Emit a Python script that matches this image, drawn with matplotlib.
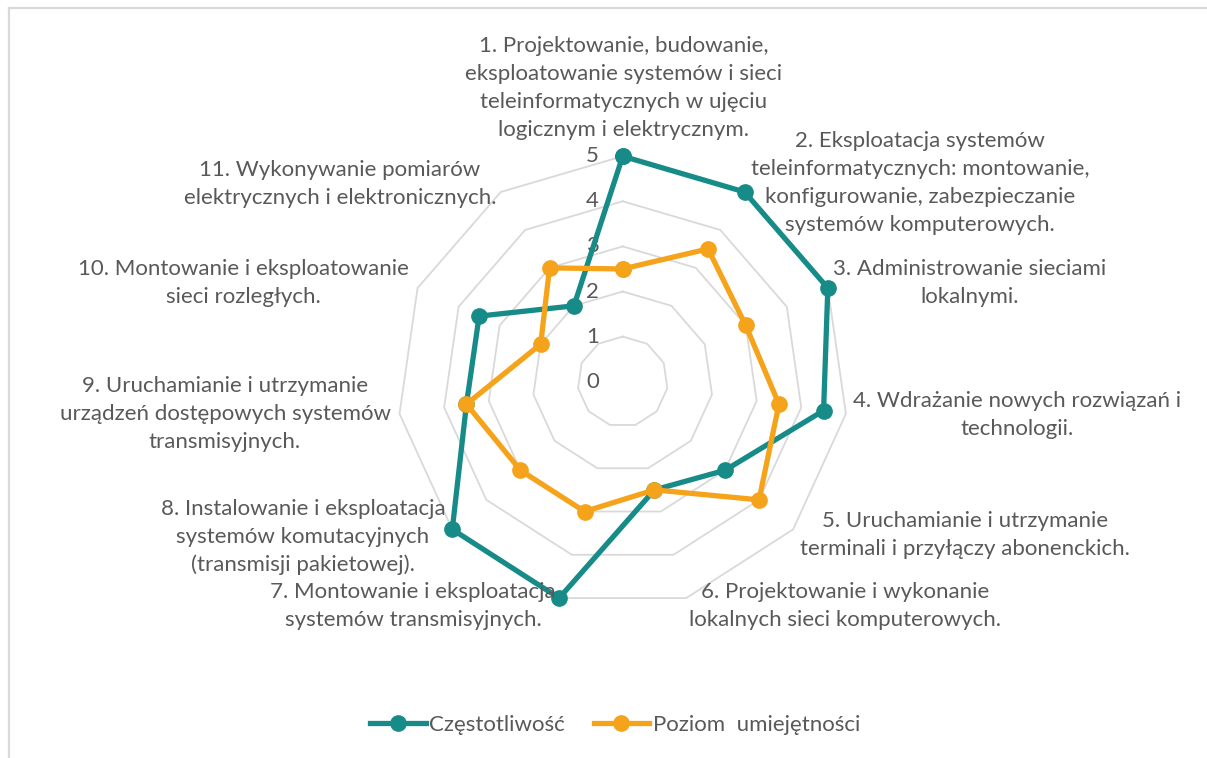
import matplotlib.pyplot as plt
import numpy as np
from matplotlib.lines import Line2D

plt.rcParams['font.family'] = ['Lato', 'DejaVu Sans']

categories = [
    "1. Projektowanie, budowanie,\neksploatowanie systemów i sieci\nteleinformatycznych w ujęciu\nlogicznym i elektrycznym.",
    "2. Eksploatacja systemów\nteleinformatycznych: montowanie,\nkonfigurowanie, zabezpieczanie\nsystemów komputerowych.",
    "3. Administrowanie sieciami\nlokalnymi.",
    "4. Wdrażanie nowych rozwiązań i\ntechnologii.",
    "5. Uruchamianie i utrzymanie\nterminali i przyłączy abonenckich.",
    "6. Projektowanie i wykonanie\nlokalnych sieci komputerowych.",
    "7. Montowanie i eksploatacja\nsystemów transmisyjnych.",
    "8. Instalowanie i eksploatacja\nsystemów komutacyjnych\n(transmisji pakietowej).",
    "9. Uruchamianie i utrzymanie\nurządzeń dostępowych systemów\ntransmisyjnych.",
    "10. Montowanie i eksploatowanie\nsieci rozległych.",
    "11. Wykonywanie pomiarów\nelektrycznych i elektronicznych.",
]
czestotliwosc = [5, 5, 5, 4.5, 3, 2.5, 5, 5, 3.5, 3.5, 2]
umiejetnosci = [2.5, 3.5, 3, 3.5, 4, 2.5, 3, 3, 3.5, 2, 3]
levels = [0, 1, 2, 3, 4, 5]

# where each category label sits (figure pixels, centre of text block)
label_pos = [(624, 88), (920, 183), (970, 283), (1017, 415), (965, 535),
             (845, 606), (413, 606), (303, 537), (225, 414), (243, 283),
             (340, 184)]

teal = '#178B88'
orange = '#F5A31A'
grey_text = '#595959'
fs = 16

W, H = 1207, 758
fig = plt.figure(figsize=(W / 100, H / 100), dpi=100)

cx, cy, R = 622.7, 381.7, 225.5
ax = fig.add_axes([(cx - R) / W, (H - cy - R) / H, 2 * R / W, 2 * R / H],
                  projection='polar')
ax.set_theta_zero_location('N')
ax.set_theta_direction(-1)
ax.set_ylim(0, 5)
ax.grid(False)
ax.spines['polar'].set_visible(False)
ax.set_xticks([])
ax.set_yticks([])
ax.patch.set_alpha(0)

n = len(categories)
theta = np.linspace(0, 2 * np.pi, n, endpoint=False)
theta_c = np.append(theta, theta[0])

# grid rings
for lv in levels[1:]:
    ax.plot(theta_c, [lv] * (n + 1), color='#D9D9D9', lw=1.3, zorder=1,
            clip_on=False)

for lv in levels:
    ax.annotate(str(lv), xy=(0, lv), xytext=(-30, 0), textcoords='offset pixels',
                ha='center', va='center', fontsize=fs, color=grey_text)


def closed(v):
    return list(v) + [v[0]]


ax.plot(theta_c, closed(czestotliwosc), color=teal, lw=3.8, marker='o',
        markersize=11, zorder=3, clip_on=False)
ax.plot(theta_c, closed(umiejetnosci), color=orange, lw=3.8, marker='o',
        markersize=11, zorder=4, clip_on=False)

for txt, (px, py) in zip(categories, label_pos):
    fig.text(px / W, 1 - py / H, txt, ha='center', va='center',
             fontsize=fs, color=grey_text, linespacing=1.5)

# frame (only top and left edges fall inside the image)
fig.add_artist(Line2D([9 / W, 9 / W], [0, 1 - 8 / H], color='#D9D9D9', lw=1.6))
fig.add_artist(Line2D([9 / W, 1], [1 - 8 / H, 1 - 8 / H], color='#D9D9D9', lw=1.6))

handles = [
    Line2D([], [], color=teal, lw=3.8, marker='o', markersize=11),
    Line2D([], [], color=orange, lw=3.8, marker='o', markersize=11),
]
fig.legend(handles, ['Częstotliwość', 'Poziom  umiejętności'],
           loc='center', bbox_to_anchor=(615 / W, 1 - 725 / H), ncol=2,
           frameon=False, fontsize=fs, handlelength=2.5, handletextpad=0.15,
           columnspacing=1.3, labelcolor=grey_text)

fig.savefig('out.png', dpi=100, facecolor='white')
